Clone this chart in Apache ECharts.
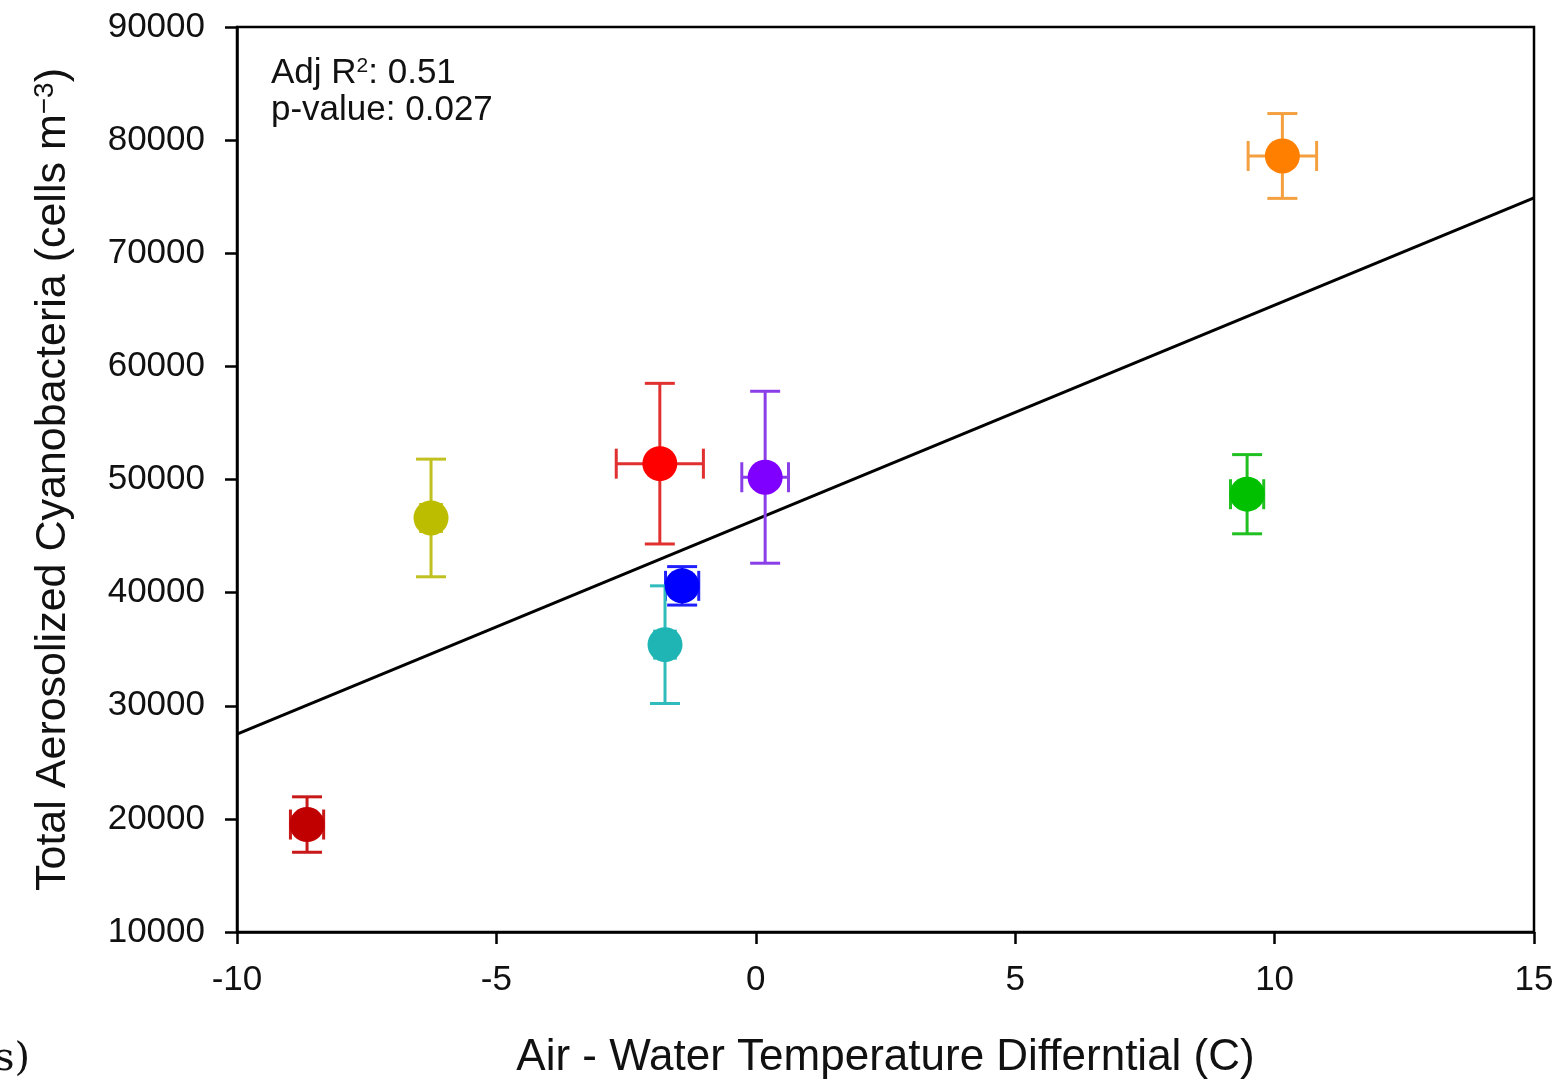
<!DOCTYPE html>
<html>
<head>
<meta charset="utf-8">
<script src="https://cdn.jsdelivr.net/npm/echarts@6/dist/echarts.min.js"></script>
<style>
  html, body { margin: 0; padding: 0; background: #fff; }
  #main { width: 1560px; height: 1086px; }
</style>
</head>
<body>
<div id="main"></div>
<script>
// values
var tempDiff = [10.15, -1.85, 0.18, -1.42, -1.75, -6.26, 9.47, -8.65];
var cyano = [78600, 51400, 50200, 40600, 35400, 46600, 48700, 19500];
var xErr = [0.66, 0.84, 0.45, 0.32, 0.2, 0.2, 0.32, 0.32];
var yErr = [3750, 7100, 7600, 1700, 5200, 5200, 3500, 2450];
var dotColors = ['#ff8000', '#ff0000', '#8000ff', '#0000ff', '#1fb5b5', '#bdbd00', '#00c000', '#c00000'];
var barColors = ['#f5a040', '#e03030', '#8a3ee8', '#2020ff', '#30bcbc', '#c0c020', '#20c020', '#c81818'];
var fitX = [-10, 15];
var fitY = [27500, 74900];

var font = 'Liberation Sans, Arial, sans-serif';
var myChart = echarts.init(document.getElementById('main'));

var points = tempDiff.map(function (x, i) {
  return { value: [x, cyano[i]], itemStyle: { color: dotColors[i], opacity: 1 } };
});
var bars = tempDiff.map(function (x, i) {
  return [x, cyano[i], xErr[i], yErr[i], i];
});

myChart.setOption({
  animation: false,
  grid: { left: 237, right: 26, top: 27, bottom: 154 },
  xAxis: {
    type: 'value', min: -10, max: 15, interval: 5,
    name: 'Air - Water Temperature Differntial (C)',
    nameLocation: 'middle', nameGap: 104,
    nameTextStyle: { fontFamily: font, fontSize: 44, color: '#111' },
    axisLine: { onZero: false, lineStyle: { color: '#000', width: 2.5 } },
    axisTick: { show: true, inside: false, length: 12, lineStyle: { color: '#000', width: 2.5 } },
    axisLabel: { fontFamily: font, fontSize: 35, color: '#111', margin: 31 },
    splitLine: { show: false }
  },
  yAxis: {
    type: 'value', min: 10000, max: 90000, interval: 10000,
    name: 'Total Aerosolized Cyanobacteria (cells m{sup|−3})',
    nameLocation: 'middle', nameGap: 162,
    nameTextStyle: {
      fontFamily: font, fontSize: 43, color: '#111',
      rich: { sup: { fontFamily: font, fontSize: 28, color: '#111', verticalAlign: 'top', padding: [0, 0, 16, 0] } }
    },
    axisLine: { onZero: false, lineStyle: { color: '#000', width: 2.5 } },
    axisTick: { show: true, inside: false, length: 12, lineStyle: { color: '#000', width: 2.5 } },
    axisLabel: { fontFamily: font, fontSize: 35, color: '#111', margin: 32, formatter: function (v) { return String(v); } },
    splitLine: { show: false }
  },
  graphic: [
    { type: 'rect', shape: { x: 237, y: 27, width: 1297, height: 905 }, style: { fill: 'none', stroke: '#000', lineWidth: 2.5 }, silent: true, z: 10 },
    { type: 'text', left: 271, top: 56, style: { text: 'Adj R{sup|2}: 0.51', font: '35px ' + font, fill: '#111',
      rich: { sup: { fontSize: 21, fontFamily: font, fill: '#111', verticalAlign: 'top', padding: [0, 0, 14, 0] } } } },
    { type: 'text', left: 271, top: 93, style: { text: 'p-value: 0.027', font: '35px ' + font, fill: '#111' } },
    { type: 'text', left: -6, top: 1040, style: { text: 's)', font: '40px DejaVu Serif, Liberation Serif, serif', fill: '#111' } }
  ],
  series: [
    {
      type: 'line',
      data: fitX.map(function (x, i) { return [x, fitY[i]]; }),
      symbol: 'none',
      lineStyle: { color: '#000', width: 3 },
      z: 2
    },
    {
      type: 'custom',
      data: bars,
      z: 3,
      renderItem: function (params, api) {
        var x = api.value(0), y = api.value(1), ex = api.value(2), ey = api.value(3);
        var c = barColors[api.value(4)];
        var top = api.coord([x, y + ey]), bot = api.coord([x, y - ey]);
        var lft = api.coord([x - ex, y]), rgt = api.coord([x + ex, y]);
        var h = 15;
        var st = { stroke: c, lineWidth: 3 };
        var line = function (x1, y1, x2, y2) {
          return { type: 'line', shape: { x1: x1, y1: y1, x2: x2, y2: y2 }, style: st };
        };
        return {
          type: 'group',
          children: [
            line(top[0], top[1], bot[0], bot[1]),
            line(top[0] - h, top[1], top[0] + h, top[1]),
            line(bot[0] - h, bot[1], bot[0] + h, bot[1]),
            line(lft[0], lft[1], rgt[0], rgt[1]),
            line(lft[0], lft[1] - h, lft[0], lft[1] + h),
            line(rgt[0], rgt[1] - h, rgt[0], rgt[1] + h)
          ]
        };
      }
    },
    {
      type: 'scatter',
      data: points,
      symbol: 'circle',
      symbolSize: 35,
      z: 4
    }
  ]
});
</script>
</body>
</html>
